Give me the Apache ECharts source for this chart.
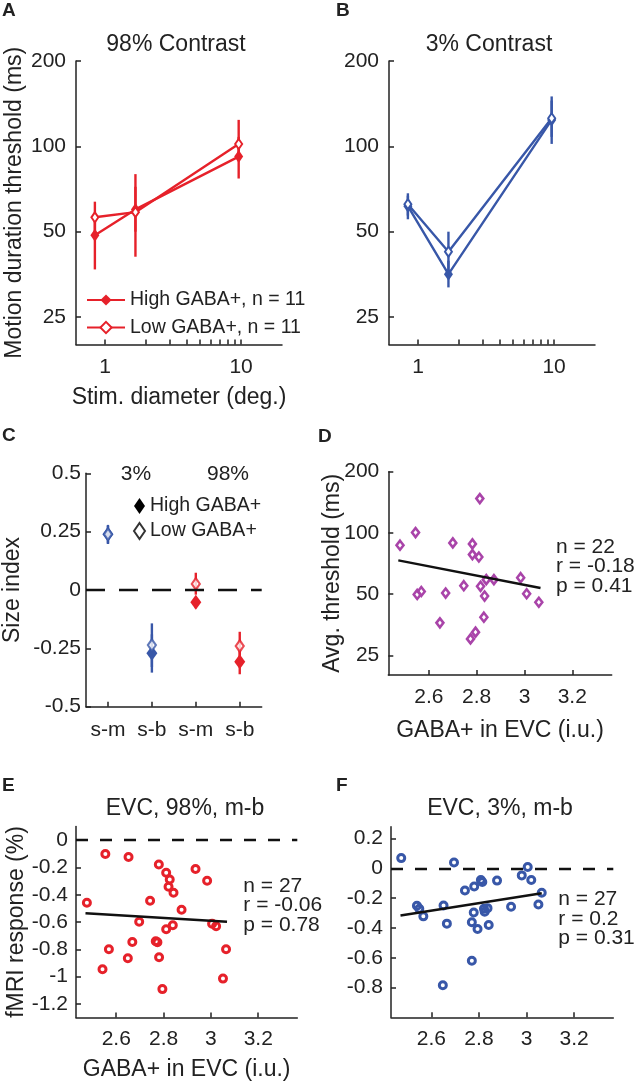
<!DOCTYPE html>
<html>
<head>
<meta charset="utf-8">
<script src="https://cdn.jsdelivr.net/npm/echarts@6/dist/echarts.min.js"></script>
<style>
html,body{margin:0;padding:0;background:#fff;}
#chart{width:637px;height:1083px;}
</style>
</head>
<body>
<div id="chart"></div>
<script>
// ---------------- data ----------------
const stimDiam = [0.84, 1.67, 9.6];
const a98High = [48.6, 59.9, 92];
const a98HighLo = [36.8, 50, 77];
const a98HighHi = [58, 72, 108];
const a98Low = [56.2, 58.6, 101.9];
const a98LowLo = [50, 40.8, 92];
const a98LowHi = [63.8, 79.8, 124];
const b3High = [61.5, 35.4, 123.9];
const b3HighLo = [55.3, 31.8, 102];
const b3HighHi = [67, 39.5, 145];
const b3Low = [62.5, 42.5, 125.6];
const b3LowLo = [57, 37, 108];
const b3LowHi = [68.3, 50, 150];

const threshTicks = [25, 50, 100, 200];
const diamLabelTicks = [1, 10];
const diamTicks = [1, 2, 3, 4, 5, 6, 7, 8, 9, 10];

const sizeIdxCats = ['s-m', 's-b', 's-m', 's-b'];
const sizeIdxPos = [1, 2, 3, 4];
const sizeIdxTicks = [-0.5, -0.25, 0, 0.25, 0.5];
const c3Pos = [1, 2];
const c3High = [0.239, -0.271];
const c3HighLo = [0.20, -0.354];
const c3HighHi = [0.275, -0.19];
const c3Low = [0.239, -0.236];
const c3LowLo = [0.197, -0.33];
const c3LowHi = [0.279, -0.143];
const c98Pos = [3, 4];
const c98High = [-0.053, -0.307];
const c98HighLo = [-0.078, -0.361];
const c98HighHi = [-0.03, -0.253];
const c98Low = [0.026, -0.240];
const c98LowLo = [-0.02, -0.30];
const c98LowHi = [0.074, -0.179];

const gabaTicks = [2.6, 2.8, 3, 3.2];
const dGaba = [2.479, 2.544, 2.551, 2.568, 2.646, 2.670, 2.700, 2.746, 2.774, 2.782, 2.782, 2.795, 2.809, 2.813, 2.816, 2.830, 2.833, 2.840, 2.872, 2.984, 3.009, 3.060];
const dThresh = [87.0, 100.4, 49.8, 51.5, 36.1, 50.6, 89.3, 55.0, 30.1, 88.3, 78.2, 32.5, 76.1, 147.5, 54.6, 38.5, 48.9, 58.9, 58.9, 60.2, 50.2, 45.6];
const dFitX = [2.472, 3.067];
const dFitY = [73.3, 53.6];

const eGaba = [2.476, 2.554, 2.652, 2.780, 2.811, 2.826, 2.821, 2.842, 2.935, 2.984, 2.743, 2.876, 2.697, 2.811, 2.839, 3.005, 3.022, 2.569, 2.668, 2.767, 2.774, 2.649, 2.781, 3.064, 2.542, 3.051, 2.795];
const eResp = [-0.459, -0.102, -0.124, -0.178, -0.239, -0.288, -0.342, -0.385, -0.212, -0.298, -0.444, -0.510, -0.598, -0.653, -0.624, -0.612, -0.631, -0.800, -0.746, -0.741, -0.748, -0.866, -0.858, -0.800, -0.946, -1.015, -1.092];
const eFitX = [2.470, 3.068];
const eFitY = [-0.536, -0.598];
const eTicks = [-1.2, -1, -0.8, -0.6, -0.4, -0.2, 0];

const fGaba = [2.473, 2.695, 2.539, 2.549, 2.566, 2.651, 2.665, 2.741, 2.780, 2.808, 2.814, 2.876, 2.778, 2.821, 2.824, 2.836, 2.770, 2.794, 2.841, 2.935, 2.980, 3.005, 3.020, 3.050, 3.064, 2.770, 2.648];
const fResp = [0.069, 0.040, -0.251, -0.271, -0.322, -0.249, -0.371, -0.149, -0.122, -0.078, -0.091, -0.082, -0.296, -0.271, -0.291, -0.267, -0.362, -0.407, -0.380, -0.258, -0.047, 0.009, -0.078, -0.243, -0.163, -0.620, -0.785];
const fFitX = [2.470, 3.064];
const fFitY = [-0.316, -0.167];
const fTicks = [-0.8, -0.6, -0.4, -0.2, 0, 0.2];

// ---------------- styles ----------------
const FONT = 'Liberation Sans, Arial, Helvetica, sans-serif';
const INK = '#222222';
const RED = '#e6212a';
const BLUE = '#3857a8';
const PURPLE = '#a944a9';

function zip(xs, ys) { return xs.map((x, i) => [x, ys[i]]); }
function bars(xs, lo, hi) { return xs.map((x, i) => [x, lo[i], hi[i]]); }
function fmt(v) { return String(Math.round(v * 1000) / 1000); }

function axisCommon(extra) {
  return Object.assign({
    axisLine: { show: true, onZero: false, lineStyle: { color: INK, width: 1.5 } },
    axisTick: { show: true, inside: true, length: 5, lineStyle: { color: INK, width: 1.5 } },
    axisLabel: { color: INK, fontSize: 21, fontFamily: FONT, margin: 9, formatter: fmt },
    splitLine: { show: false },
    nameLocation: 'middle',
    nameMoveOverlap: false,
    nameTextStyle: { color: INK, fontSize: 23, fontFamily: FONT }
  }, extra);
}
function withTicks(ax, ticks, labelTicks, margin) {
  ax.axisTick = Object.assign({}, ax.axisTick, { customValues: ticks });
  ax.axisLabel = Object.assign({}, ax.axisLabel, { customValues: labelTicks || ticks });
  if (margin !== undefined) ax.axisLabel.margin = margin;
  return ax;
}

function errorBars(idx, data, color) {
  return {
    type: 'custom', xAxisIndex: idx, yAxisIndex: idx, silent: true, data: data,
    encode: { x: 0, y: [1, 2] },
    renderItem: function (params, api) {
      const x = api.value(0);
      const a = api.coord([x, api.value(1)]);
      const b = api.coord([x, api.value(2)]);
      return { type: 'line', shape: { x1: a[0], y1: a[1], x2: b[0], y2: b[1] },
        style: { stroke: color, lineWidth: 2.4 } };
    }
  };
}
function trendLine(idx, name, xs, ys, color, filled, size) {
  return {
    type: 'line', name: name, xAxisIndex: idx, yAxisIndex: idx, data: zip(xs, ys),
    symbol: 'diamond', symbolSize: size, showSymbol: true,
    lineStyle: { color: color, width: 2.4 },
    itemStyle: filled ? { color: color, borderWidth: 0 } : { color: '#ffffff', borderColor: color, borderWidth: 2 },
    emphasis: { disabled: true }
  };
}
function pointSeries(idx, name, xs, ys, color, filled, symbol, size, bw, extra) {
  return Object.assign({
    type: 'scatter', name: name, xAxisIndex: idx, yAxisIndex: idx, data: zip(xs, ys),
    symbol: symbol, symbolSize: size,
    itemStyle: filled ? { color: color, borderWidth: 0, opacity: 1 } :
      { color: 'rgba(255,255,255,0)', borderColor: color, borderWidth: bw, opacity: 1 },
    emphasis: { disabled: true }
  }, extra || {});
}
function fitLine(idx, xs, ys) {
  return { type: 'line', xAxisIndex: idx, yAxisIndex: idx, data: zip(xs, ys), symbol: 'none',
    lineStyle: { color: '#111', width: 2.4 }, silent: true, z: 3 };
}
function zeroLine(dash) {
  return { silent: true, symbol: 'none', label: { show: false },
    lineStyle: { type: dash, color: '#111', width: 2.4 }, data: [{ yAxis: 0 }] };
}

const grids = [
  { left: 76, top: 61, width: 206, height: 283.5 },
  { left: 389, top: 61, width: 206, height: 283.5 },
  { left: 86, top: 473.3, width: 175.7, height: 233.4 },
  { left: 388.3, top: 471.7, width: 223.4, height: 203.3 },
  { left: 76, top: 826.5, width: 221.3, height: 191 },
  { left: 391, top: 826.7, width: 222.3, height: 190.6 }
];

const xAxes = [
  withTicks(axisCommon({ gridIndex: 0, type: 'log', logBase: 10, min: 0.61, max: 20,
    name: 'Stim. diameter (deg.)', nameGap: 42 }), diamTicks, diamLabelTicks, 12),
  withTicks(axisCommon({ gridIndex: 1, type: 'log', logBase: 10, min: 0.61, max: 20 }), diamTicks, diamLabelTicks, 12),
  withTicks(axisCommon({ gridIndex: 2, type: 'value', min: 0.5, max: 4.5 }), sizeIdxPos, sizeIdxPos, 13),
  withTicks(axisCommon({ gridIndex: 3, type: 'value', min: 2.43, max: 3.365,
    name: 'GABA+ in EVC (i.u.)', nameGap: 44 }), gabaTicks, gabaTicks, 12),
  withTicks(axisCommon({ gridIndex: 4, type: 'value', min: 2.43, max: 3.365,
    name: 'GABA+ in EVC (i.u.)', nameGap: 41 }), gabaTicks, gabaTicks, 11),
  withTicks(axisCommon({ gridIndex: 5, type: 'value', min: 2.43, max: 3.365 }), gabaTicks, gabaTicks, 11)
];
xAxes[2].axisLabel.formatter = function (v) { return sizeIdxCats[Math.round(v) - 1]; };

const yAxes = [
  withTicks(axisCommon({ gridIndex: 0, type: 'log', logBase: 2, min: 20, max: 200,
    name: 'Motion duration threshold (ms)', nameGap: 50 }), threshTicks, threshTicks, 10),
  withTicks(axisCommon({ gridIndex: 1, type: 'log', logBase: 2, min: 20, max: 200 }), threshTicks, threshTicks, 10),
  withTicks(axisCommon({ gridIndex: 2, type: 'value', min: -0.5, max: 0.5,
    name: 'Size index', nameGap: 62 }), sizeIdxTicks, sizeIdxTicks, 5),
  withTicks(axisCommon({ gridIndex: 3, type: 'log', logBase: 2, min: 20, max: 200,
    name: 'Avg. threshold (ms)', nameGap: 44 }), threshTicks, threshTicks, 9),
  withTicks(axisCommon({ gridIndex: 4, type: 'value', min: -1.3, max: 0.1,
    name: 'fMRI response (%)', nameGap: 48 }), eTicks, eTicks, 8),
  withTicks(axisCommon({ gridIndex: 5, type: 'value', min: -1, max: 0.28 }), fTicks, fTicks, 8)
];

const series = [
  // A
  errorBars(0, bars(stimDiam, a98HighLo, a98HighHi), RED),
  errorBars(0, bars(stimDiam, a98LowLo, a98LowHi), RED),
  trendLine(0, 'High GABA+, n = 11', stimDiam, a98High, RED, true, [9, 13]),
  trendLine(0, 'Low GABA+, n = 11', stimDiam, a98Low, RED, false, [7, 10]),
  // B
  errorBars(1, bars(stimDiam, b3HighLo, b3HighHi), BLUE),
  errorBars(1, bars(stimDiam, b3LowLo, b3LowHi), BLUE),
  trendLine(1, 'B high', stimDiam, b3High, BLUE, true, [9, 13]),
  trendLine(1, 'B low', stimDiam, b3Low, BLUE, false, [7, 10]),
  // C
  errorBars(2, bars(c3Pos, c3HighLo, c3HighHi), BLUE),
  errorBars(2, bars(c3Pos, c3LowLo, c3LowHi), BLUE),
  errorBars(2, bars(c98Pos, c98HighLo, c98HighHi), RED),
  errorBars(2, bars(c98Pos, c98LowLo, c98LowHi), RED),
  pointSeries(2, 'High GABA+', c3Pos, c3High, BLUE, true, 'diamond', [11, 15], 0,
    { markLine: zeroLine([19, 14]) }),
  pointSeries(2, 'High GABA+', c98Pos, c98High, RED, true, 'diamond', [11, 15], 0),
  pointSeries(2, 'Low GABA+', c3Pos, c3Low, BLUE, false, 'diamond', [8, 11.5], 2,
    { itemStyle: { color: '#ffffff', borderColor: BLUE, borderWidth: 2.2 } }),
  pointSeries(2, 'Low GABA+', c98Pos, c98Low, RED, false, 'diamond', [8, 11.5], 2,
    { itemStyle: { color: '#ffffff', borderColor: RED, borderWidth: 2.2 } }),
  // D
  pointSeries(3, 'D', dGaba, dThresh, PURPLE, false, 'diamond', [7, 9], 2.6),
  fitLine(3, dFitX, dFitY),
  // E
  pointSeries(4, 'E', eGaba, eResp, RED, false, 'circle', 7, 3, { markLine: zeroLine([12, 12]) }),
  fitLine(4, eFitX, eFitY),
  // F
  pointSeries(5, 'F', fGaba, fResp, BLUE, false, 'circle', 7, 3, { markLine: zeroLine([12, 12]) }),
  fitLine(5, fFitX, fFitY)
];

function txt(x, y, text, size, opts) {
  return { type: 'text', x: x, y: y, silent: true,
    style: Object.assign({ text: text, fill: INK, fontSize: size, fontFamily: FONT,
      align: 'center', verticalAlign: 'middle' }, (opts && opts.style) || {}) };
}
const graphics = [
  txt(2, 11, 'A', 19, { style: { align: 'left', fontWeight: 'bold' } }),
  txt(336, 11, 'B', 19, { style: { align: 'left', fontWeight: 'bold' } }),
  txt(2, 436, 'C', 19, { style: { align: 'left', fontWeight: 'bold' } }),
  txt(318, 437, 'D', 19, { style: { align: 'left', fontWeight: 'bold' } }),
  txt(2, 785.5, 'E', 19, { style: { align: 'left', fontWeight: 'bold' } }),
  txt(336, 786, 'F', 19, { style: { align: 'left', fontWeight: 'bold' } }),
  txt(176, 45, '98% Contrast', 23),
  txt(489, 45, '3% Contrast', 23),
  txt(185, 809, 'EVC, 98%, m-b', 23),
  txt(500, 809, 'EVC, 3%, m-b', 23),
  txt(136, 474, '3%', 21),
  txt(228, 474, '98%', 21),
  txt(556, 537, 'n = 22\nr = -0.18\np = 0.41', 21, { style: { align: 'left', verticalAlign: 'top', lineHeight: 19.5 } }),
  txt(243.3, 876, 'n = 27\nr = -0.06\np = 0.78', 21, { style: { align: 'left', verticalAlign: 'top', lineHeight: 19.5 } }),
  txt(558.3, 889.5, 'n = 27\nr = 0.2\np = 0.31', 21, { style: { align: 'left', verticalAlign: 'top', lineHeight: 19.5 } })
];

const chart = echarts.init(document.getElementById('chart'), null, { renderer: 'canvas' });
chart.setOption({
  animation: false,
  backgroundColor: '#ffffff',
  grid: grids,
  xAxis: xAxes,
  yAxis: yAxes,
  legend: [
    { orient: 'vertical', left: 81, top: 285, itemWidth: 38, itemHeight: 14, itemGap: 7.5,
      selectedMode: false, data: ['High GABA+, n = 11', 'Low GABA+, n = 11'],
      textStyle: { color: INK, fontSize: 19.5, fontFamily: FONT } },
    { orient: 'vertical', left: 128, top: 491, itemWidth: 11, itemHeight: 16, itemGap: 5,
      selectedMode: false,
      data: [
        { name: 'High GABA+', icon: 'diamond', itemStyle: { color: '#000000', borderWidth: 0 } },
        { name: 'Low GABA+', icon: 'diamond', itemStyle: { color: '#ffffff', borderColor: '#000000', borderWidth: 2 } }
      ],
      textStyle: { color: INK, fontSize: 19.5, fontFamily: FONT } }
  ],
  graphic: graphics,
  series: series
});
</script>
</body>
</html>
